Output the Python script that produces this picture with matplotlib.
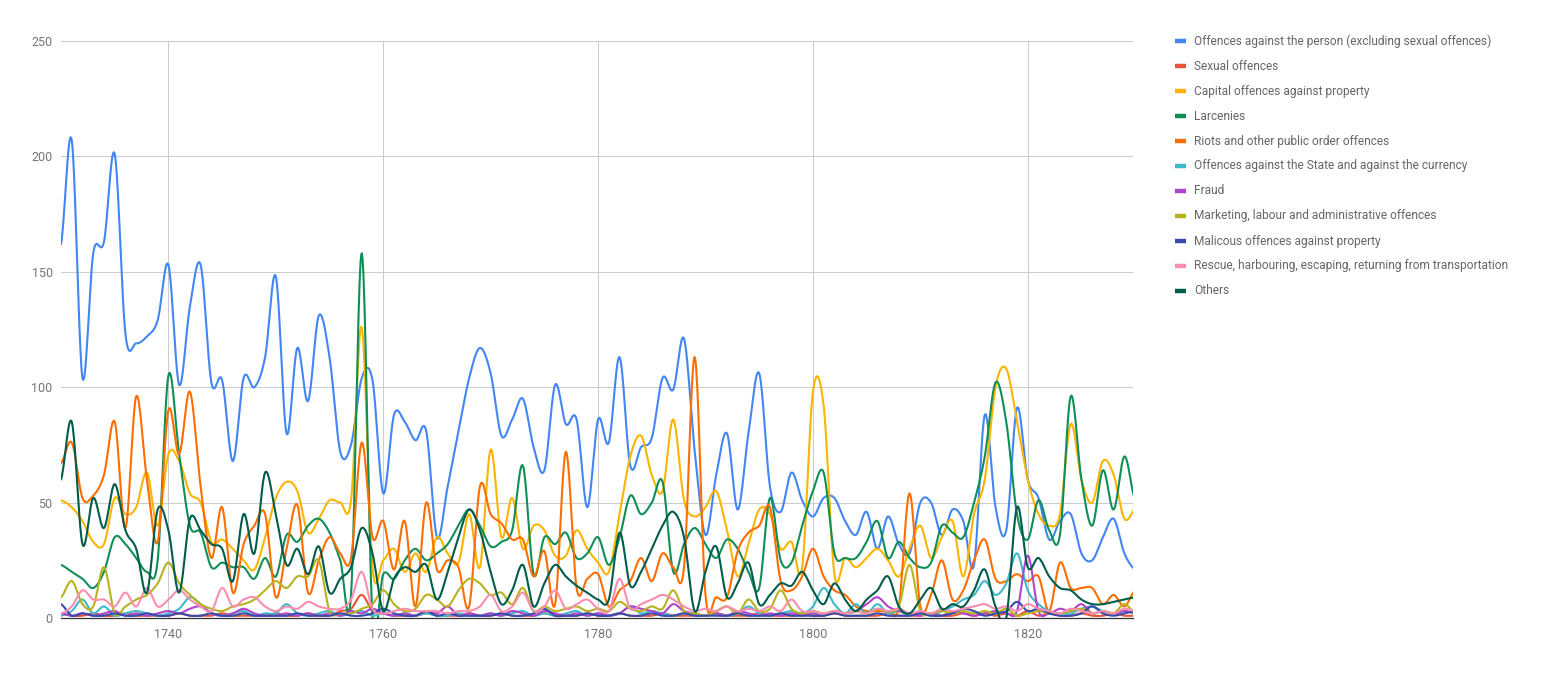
import matplotlib
matplotlib.use("Agg")
import matplotlib.pyplot as plt
import numpy as np
from matplotlib.lines import Line2D

years = list(range(1730, 1831))

person = [
    162, 207, 104, 158, 163, 201, 123, 119, 122, 129,
    153, 101, 135, 153, 102, 103, 68, 104, 100, 113,
    148, 80, 117, 94, 131, 113, 72, 75, 104, 103,
    54, 88, 85, 77, 81, 35, 57, 81, 104, 117,
    106, 79, 86, 95, 74, 64, 101, 84, 86, 48,
    86, 76, 113, 66, 74, 78, 104, 99, 121, 72,
    36, 62, 80, 47, 80, 106, 57, 46, 63, 51,
    44, 52, 52, 42, 36, 46, 30, 44, 32, 28,
    50, 50, 36, 47, 42, 23, 88, 48, 38, 91,
    60, 52, 34, 42, 45, 28, 25, 35, 43, 28,
    21,
]
sexual = [
    2, 1, 1, 2, 1, 1, 2, 1, 1, 1,
    1, 2, 1, 1, 1, 2, 1, 1, 1, 1,
    2, 1, 1, 2, 1, 1, 3, 4, 10, 3,
    2, 1, 1, 1, 2, 1, 1, 1, 2, 1,
    1, 2, 1, 1, 1, 2, 1, 1, 1, 2,
    1, 1, 2, 1, 1, 1, 2, 1, 1, 1,
    1, 2, 1, 1, 1, 2, 1, 1, 1, 2,
    1, 1, 2, 1, 1, 1, 1, 2, 1, 1,
    1, 2, 1, 1, 2, 1, 2, 1, 2, 1,
    3, 1, 2, 1, 1, 2, 1, 1, 2, 1,
    1,
]
capital = [
    51, 48, 42, 33, 32, 52, 45, 48, 63, 40,
    71, 68, 54, 50, 33, 34, 30, 25, 21, 35,
    52, 59, 55, 37, 43, 51, 50, 51, 126, 22,
    25, 30, 20, 28, 20, 35, 28, 24, 45, 22,
    73, 35, 52, 30, 40, 38, 27, 27, 38, 30,
    24, 20, 45, 70, 79, 62, 55, 86, 51, 44,
    48, 55, 38, 18, 32, 47, 45, 30, 33, 22,
    98, 92, 19, 26, 22, 26, 30, 25, 18, 30,
    40, 26, 35, 42, 18, 45, 60, 100, 108, 85,
    60, 45, 40, 45, 84, 60, 50, 68, 62, 43,
    47,
]
larcenies = [
    23, 20, 17, 13, 20, 35, 32, 26, 20, 25,
    105, 71, 40, 37, 22, 24, 22, 22, 17, 26,
    18, 36, 33, 40, 43, 37, 25, 10, 158, 0,
    19, 17, 25, 30, 25, 28, 32, 40, 47, 40,
    31, 33, 38, 66, 19, 35, 32, 37, 26, 28,
    35, 23, 35, 53, 45, 50, 59, 20, 32, 39,
    32, 26, 34, 30, 20, 13, 52, 25, 24, 40,
    55, 63, 28, 26, 26, 33, 42, 26, 33, 26,
    22, 24, 40, 37, 35, 50, 70, 102, 85, 45,
    34, 51, 38, 36, 96, 60, 40, 64, 47, 70,
    51,
]
riots = [
    67, 76, 52, 53, 62, 85, 39, 96, 60, 33,
    90, 71, 98, 57, 26, 48, 11, 32, 40, 45,
    9, 30, 49, 11, 25, 35, 28, 26, 76, 35,
    42, 21, 42, 5, 50, 21, 25, 22, 5, 57,
    45, 41, 34, 34, 18, 29, 6, 72, 13, 17,
    19, 5, 12, 16, 26, 16, 28, 22, 22, 113,
    10, 9, 9, 29, 37, 40, 48, 16, 12, 18,
    30, 18, 12, 10, 5, 3, 3, 3, 5, 54,
    5, 10, 25, 8, 12, 25, 34, 17, 16, 19,
    16, 18, 3, 24, 13, 13, 13, 6, 10, 5,
    12,
]
state = [
    1, 3, 8, 2, 5, 1, 2, 3, 2, 1,
    2, 4, 9, 6, 2, 1, 2, 3, 1, 2,
    2, 6, 2, 1, 2, 3, 1, 2, 3, 1,
    2, 1, 2, 1, 2, 1, 1, 2, 1, 1,
    2, 1, 2, 3, 1, 2, 1, 2, 3, 1,
    2, 1, 2, 5, 2, 3, 2, 1, 2, 1,
    1, 2, 1, 2, 5, 2, 1, 2, 3, 2,
    5, 13, 6, 2, 6, 2, 6, 2, 3, 1,
    2, 1, 3, 5, 8, 10, 16, 10, 15, 28,
    12, 6, 3, 2, 2, 4, 5, 3, 2, 3,
    2,
]
fraud = [
    2, 1, 2, 1, 2, 3, 1, 2, 1, 2,
    3, 2, 4, 5, 2, 1, 2, 4, 2, 1,
    1, 2, 1, 2, 1, 2, 1, 3, 2, 4,
    2, 1, 2, 1, 3, 2, 5, 1, 2, 1,
    2, 1, 3, 2, 1, 3, 2, 1, 2, 1,
    2, 1, 2, 5, 4, 3, 2, 6, 3, 2,
    1, 2, 1, 3, 2, 1, 2, 1, 2, 1,
    2, 1, 3, 2, 3, 6, 9, 5, 3, 2,
    1, 2, 1, 3, 2, 1, 2, 3, 2, 3,
    27, 3, 2, 4, 3, 6, 2, 3, 2, 3,
    2,
]
marketing = [
    9, 16, 6, 5, 22, 2, 5, 8, 10, 15,
    24, 15, 10, 6, 4, 3, 5, 6, 8, 12,
    16, 13, 18, 18, 25, 3, 2, 2, 4, 6,
    12, 6, 3, 4, 10, 8, 5, 12, 17, 15,
    10, 11, 6, 13, 3, 5, 3, 4, 5, 3,
    4, 3, 7, 4, 3, 5, 4, 12, 3, 2,
    1, 3, 5, 2, 8, 3, 4, 12, 4, 2,
    3, 2, 3, 2, 3, 2, 4, 3, 5, 23,
    3, 2, 3, 2, 3, 2, 3, 2, 4, 1,
    2, 3, 2, 2, 3, 4, 2, 3, 2, 6,
    2,
]
malicious = [
    6, 1, 2, 1, 1, 2, 1, 1, 2, 1,
    1, 2, 1, 1, 2, 1, 1, 2, 1, 1,
    1, 1, 2, 1, 1, 1, 2, 1, 1, 2,
    4, 2, 1, 1, 3, 1, 2, 1, 1, 1,
    1, 2, 1, 1, 2, 4, 1, 1, 1, 2,
    1, 1, 2, 1, 1, 2, 1, 1, 2, 1,
    1, 1, 1, 2, 1, 1, 1, 2, 1, 1,
    1, 1, 2, 1, 1, 1, 2, 1, 1, 1,
    2, 1, 1, 2, 4, 3, 1, 2, 3, 7,
    3, 4, 2, 1, 1, 2, 5, 2, 1, 2,
    3,
]
rescue = [
    2, 5, 12, 8, 8, 5, 11, 5, 13, 5,
    8, 12, 8, 5, 3, 13, 5, 8, 9, 5,
    3, 5, 4, 7, 5, 4, 4, 8, 20, 4,
    2, 3, 4, 3, 3, 3, 2, 3, 3, 5,
    10, 3, 5, 11, 3, 5, 12, 4, 6, 8,
    4, 3, 17, 4, 6, 8, 10, 8, 5, 3,
    4, 3, 5, 3, 4, 3, 5, 3, 8, 3,
    3, 2, 3, 2, 3, 2, 4, 3, 4, 2,
    3, 2, 4, 3, 4, 5, 6, 4, 5, 3,
    6, 4, 3, 2, 4, 3, 2, 3, 2, 4,
    3,
]
others = [
    60, 85, 32, 52, 39, 58, 38, 30, 11, 47,
    38, 11, 43, 38, 32, 30, 16, 45, 28, 63,
    45, 23, 30, 19, 31, 11, 17, 22, 39, 28,
    3, 17, 22, 20, 23, 8, 20, 35, 47, 38,
    20, 6, 12, 23, 5, 15, 23, 18, 14, 11,
    8, 8, 37, 14, 20, 30, 40, 46, 35, 3,
    20, 31, 9, 15, 24, 6, 10, 15, 14, 20,
    12, 6, 15, 8, 3, 8, 12, 18, 5, 2,
    8, 13, 4, 6, 5, 12, 21, 5, 0, 48,
    22, 26, 18, 13, 12, 8, 6, 6, 7, 8,
    9,
]

labels = [
    "Offences against the person (excluding sexual offences)",
    "Sexual offences",
    "Capital offences against property",
    "Larcenies",
    "Riots and other public order offences",
    "Offences against the State and against the currency",
    "Fraud",
    "Marketing, labour and administrative offences",
    "Malicous offences against property",
    "Rescue, harbouring, escaping, returning from transportation",
    "Others",
]
series = [person, sexual, capital, larcenies, riots, state, fraud,
          marketing, malicious, rescue, others]
colors = ["#4285F4", "#E8533A", "#FBB400", "#0F8F56", "#FF6D00", "#3EB8CA",
          "#B043CC", "#B8B21E", "#3A4BAB", "#FB8DB0", "#005C4B"]


def smooth(x, y, steps=20):
    # catmull-rom through the yearly points, like the curved google lines
    x = np.asarray(x, float)
    y = np.asarray(y, float)
    yp = np.concatenate([[y[0]], y, [y[-1]]])
    t = np.linspace(0, 1, steps, endpoint=False)[:, None]
    p0, p1, p2, p3 = yp[:-3], yp[1:-2], yp[2:-1], yp[3:]
    ys = 0.5 * (2 * p1 + (p2 - p0) * t
                + (2 * p0 - 5 * p1 + 4 * p2 - p3) * t ** 2
                + (3 * p1 - p0 - 3 * p2 + p3) * t ** 3)
    xs = x[:-1] + (x[1:] - x[:-1]) * t
    return (np.append(xs.T.ravel(), x[-1]), np.append(ys.T.ravel(), y[-1]))


plt.rcParams["font.family"] = ["Roboto", "DejaVu Sans"]

W, H = 1549, 673
fig = plt.figure(figsize=(W / 100, H / 100), dpi=100)
ax = fig.add_axes([61 / W, 1 - 618 / H, (1133 - 61) / W, (618 - 41) / H])

for vals, col in zip(series, colors):
    xs, ys = smooth(years, vals)
    ax.plot(xs, ys, color=col, lw=1.5, solid_capstyle="round")

ax.set_xlim(1730, 1829.8)
ax.set_ylim(0, 250)
ax.set_xticks([1740, 1760, 1780, 1800, 1820])
ax.set_yticks([0, 50, 100, 150, 200, 250])
ax.grid(True, color="#cccccc", lw=0.75)
ax.set_axisbelow(True)
for side in ["top", "right", "left"]:
    ax.spines[side].set_visible(False)
ax.spines["bottom"].set_color("#333333")
ax.spines["bottom"].set_linewidth(0.9)
ax.tick_params(length=0, labelsize=9, colors="#757575")
ax.tick_params(axis="x", pad=7)
ax.tick_params(axis="y", pad=6)

# legend on the right
for i, (lab, col) in enumerate(zip(labels, colors)):
    yy = 1 - (41 + 25 * i) / H
    fig.add_artist(Line2D([1175 / W, 1186 / W], [yy, yy], color=col, lw=3.2,
                          solid_capstyle="butt"))
    fig.text(1194 / W, yy, lab, fontsize=8.6, color="#666666", va="center",
             ha="left")

fig.savefig("out.png", dpi=100)
